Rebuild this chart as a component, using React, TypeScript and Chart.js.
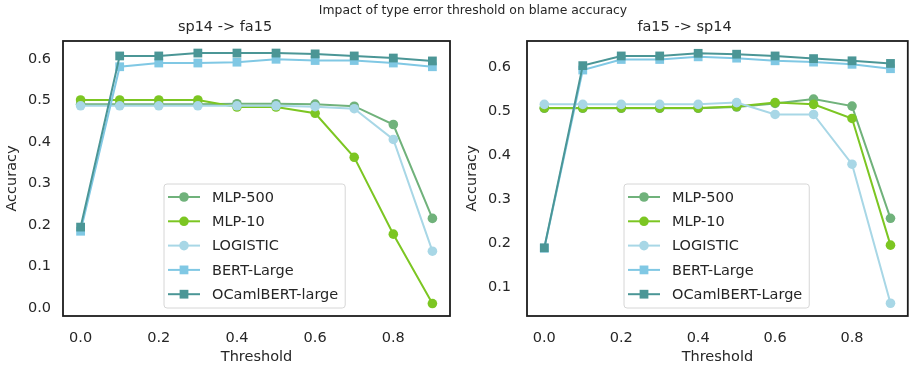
import React, { useEffect, useRef } from 'react';
import { Chart, registerables } from 'chart.js';

Chart.register(...registerables);

const FONT = '"DejaVu Sans", sans-serif';

const thresholds = [0, 0.1, 0.2, 0.3, 0.4, 0.5, 0.6, 0.7, 0.8, 0.9];
const xTickValues = [0, 0.2, 0.4, 0.6, 0.8];

const suptitle = 'Impact of type error threshold on blame accuracy';
const leftTitle = 'sp14 -> fa15';
const rightTitle = 'fa15 -> sp14';
const xLabel = 'Threshold';
const yLabel = 'Accuracy';

const leftNames = ['MLP-500', 'MLP-10', 'LOGISTIC', 'BERT-Large', 'OCamlBERT-large'];
const rightNames = ['MLP-500', 'MLP-10', 'LOGISTIC', 'BERT-Large', 'OCamlBERT-Large'];

// sp14 -> fa15
const leftMlp500 = [0.491, 0.491, 0.491, 0.491, 0.492, 0.492, 0.491, 0.486, 0.442, 0.216];
const leftMlp10 = [0.501, 0.501, 0.501, 0.501, 0.484, 0.484, 0.469, 0.363, 0.178, 0.011];
const leftLogistic = [0.487, 0.487, 0.487, 0.487, 0.487, 0.487, 0.485, 0.48, 0.406, 0.137];
const leftBert = [0.185, 0.581, 0.59, 0.59, 0.592, 0.599, 0.596, 0.596, 0.59, 0.581];
const leftOcaml = [0.195, 0.607, 0.607, 0.614, 0.614, 0.614, 0.612, 0.607, 0.602, 0.595];

// fa15 -> sp14
const rightMlp500 = [0.506, 0.506, 0.506, 0.506, 0.506, 0.509, 0.517, 0.527, 0.511, 0.256];
const rightMlp10 = [0.507, 0.507, 0.507, 0.507, 0.507, 0.51, 0.519, 0.515, 0.483, 0.195];
const rightLogistic = [0.515, 0.515, 0.515, 0.515, 0.515, 0.519, 0.492, 0.492, 0.379, 0.063];
const rightBert = [0.188, 0.593, 0.617, 0.617, 0.623, 0.62, 0.614, 0.611, 0.606, 0.596];
const rightOcaml = [0.189, 0.603, 0.625, 0.625, 0.631, 0.629, 0.625, 0.619, 0.614, 0.608];

const leftYTicks = [0, 0.1, 0.2, 0.3, 0.4, 0.5, 0.6];
const rightYTicks = [0.1, 0.2, 0.3, 0.4, 0.5, 0.6];

const colors = ['#70b27b', '#7cc622', '#a8d7e6', '#80c8e4', '#4b9696'];
const markers = ['circle', 'circle', 'circle', 'rect', 'rect'];

const frameLegendPlugin = {
  id: 'mplFrameLegend',
  afterDatasetsDraw(chart: any, _args: any, opts: any) {
    const ctx = chart.ctx as CanvasRenderingContext2D;
    const { left, top, right, bottom } = chart.chartArea;
    ctx.save();
    ctx.strokeStyle = '#1c1c1c';
    ctx.lineWidth = 1.8;
    ctx.strokeRect(left, top, right - left, bottom - top);

    ctx.font = '14.5px ' + FONT;
    const ds = chart.data.datasets;
    let maxW = 0;
    ds.forEach((d: any) => {
      maxW = Math.max(maxW, ctx.measureText(d.label).width);
    });
    const bx = opts.x;
    const by = opts.y;
    const bw = 48 + maxW + 7;
    const bh = 124;
    const r = 3;
    ctx.beginPath();
    ctx.moveTo(bx + r, by);
    ctx.lineTo(bx + bw - r, by);
    ctx.arcTo(bx + bw, by, bx + bw, by + r, r);
    ctx.lineTo(bx + bw, by + bh - r);
    ctx.arcTo(bx + bw, by + bh, bx + bw - r, by + bh, r);
    ctx.lineTo(bx + r, by + bh);
    ctx.arcTo(bx, by + bh, bx, by + bh - r, r);
    ctx.lineTo(bx, by + r);
    ctx.arcTo(bx, by, bx + r, by, r);
    ctx.closePath();
    ctx.fillStyle = 'rgba(255,255,255,0.85)';
    ctx.fill();
    ctx.strokeStyle = '#d6d6d6';
    ctx.lineWidth = 1;
    ctx.stroke();

    ds.forEach((d: any, i: number) => {
      const y = by + 13 + i * 24.3;
      ctx.strokeStyle = d.borderColor;
      ctx.lineWidth = 2;
      ctx.beginPath();
      ctx.moveTo(bx + 4, y);
      ctx.lineTo(bx + 36, y);
      ctx.stroke();
      ctx.fillStyle = d.borderColor;
      if (d.pointStyle === 'rect') {
        const s = d.pointRadius * Math.SQRT1_2;
        ctx.fillRect(bx + 20 - s, y - s, 2 * s, 2 * s);
      } else {
        ctx.beginPath();
        ctx.arc(bx + 20, y, d.pointRadius, 0, Math.PI * 2);
        ctx.fill();
      }
      ctx.fillStyle = '#262626';
      ctx.textAlign = 'left';
      ctx.textBaseline = 'middle';
      ctx.fillText(d.label, bx + 48, y + 1);
    });
    ctx.restore();
  },
};

function buildConfig(
  title: string,
  names: string[],
  series: number[][],
  yTicks: number[],
  yMin: number,
  yMax: number,
  yAxisWidth: number,
  padRight: number,
  legendPos: { x: number; y: number }
): any {
  const datasets = series.map((vals, i) => ({
    label: names[i],
    data: thresholds.map((t, j) => ({ x: t, y: vals[j] })),
    borderColor: colors[i],
    backgroundColor: colors[i],
    borderWidth: 2,
    pointStyle: markers[i],
    pointRadius: markers[i] === 'rect' ? 6.2 : 4.8,
    pointBorderWidth: 0,
    pointHoverRadius: 0,
    tension: 0,
    fill: false,
    order: series.length - 1 - i,
    clip: false,
  }));
  return {
    type: 'line',
    data: { datasets },
    plugins: [frameLegendPlugin],
    options: {
      responsive: false,
      animation: false,
      devicePixelRatio: 1,
      layout: { padding: { left: 0, right: padRight, top: 0, bottom: 0 } },
      plugins: {
        legend: { display: false },
        tooltip: { enabled: false },
        title: {
          display: true,
          text: title,
          color: '#262626',
          font: { family: FONT, size: 14.5, weight: 'normal', lineHeight: 1.2 },
          padding: { top: 18.8, bottom: 4.8 },
        },
        mplFrameLegend: legendPos,
      },
      scales: {
        x: {
          type: 'linear',
          min: -0.045,
          max: 0.945,
          grid: { display: false, drawTicks: false },
          border: { display: false },
          afterBuildTicks: (scale: any) => {
            scale.ticks = xTickValues.map((v) => ({ value: v }));
          },
          afterFit: (scale: any) => {
            scale.height = 54;
          },
          ticks: {
            color: '#262626',
            padding: 14,
            maxRotation: 0,
            autoSkip: false,
            font: { family: FONT, size: 14.5 },
            callback: (v: any) => Number(v).toFixed(1),
          },
          title: {
            display: true,
            text: xLabel,
            color: '#262626',
            font: { family: FONT, size: 14.5, lineHeight: 1.2 },
            padding: { top: 0, bottom: 3.8 },
          },
        },
        y: {
          type: 'linear',
          min: yMin,
          max: yMax,
          grid: { display: false, drawTicks: false },
          border: { display: false },
          afterBuildTicks: (scale: any) => {
            scale.ticks = yTicks.map((v) => ({ value: v }));
          },
          afterFit: (scale: any) => {
            scale.width = yAxisWidth;
          },
          ticks: {
            color: '#262626',
            padding: yAxisWidth === 63 ? 12 : 16,
            autoSkip: false,
            font: { family: FONT, size: 14.5 },
            callback: (v: any) => Number(v).toFixed(1),
          },
          title: {
            display: true,
            text: yLabel,
            color: '#262626',
            font: { family: FONT, size: 14.5, lineHeight: 1.2 },
            padding: { top: yAxisWidth === 63 ? 4 : 7, bottom: 0 },
          },
        },
      },
    },
  };
}

export default function App() {
  const leftRef = useRef<HTMLCanvasElement>(null);
  const rightRef = useRef<HTMLCanvasElement>(null);

  useEffect(() => {
    const left = new Chart(
      leftRef.current as HTMLCanvasElement,
      buildConfig(
        leftTitle,
        leftNames,
        [leftMlp500, leftMlp10, leftLogistic, leftBert, leftOcaml],
        leftYTicks,
        -0.019,
        0.643,
        63,
        7,
        { x: 164, y: 184 }
      )
    );
    const right = new Chart(
      rightRef.current as HTMLCanvasElement,
      buildConfig(
        rightTitle,
        rightNames,
        [rightMlp500, rightMlp10, rightLogistic, rightBert, rightOcaml],
        rightYTicks,
        0.034,
        0.659,
        70,
        2,
        { x: 167, y: 184 }
      )
    );
    return () => {
      left.destroy();
      right.destroy();
    };
  }, []);

  return (
    <div
      style={{
        position: 'fixed',
        left: 0,
        top: 0,
        width: 914,
        height: 370,
        background: '#ffffff',
        overflow: 'hidden',
      }}
    >
      <div
        style={{
          position: 'absolute',
          left: 0,
          top: 2,
          width: 946,
          textAlign: 'center',
          fontFamily: FONT,
          fontSize: 12.4,
          lineHeight: '15px',
          color: '#262626',
          whiteSpace: 'nowrap',
          zIndex: 2,
        }}
      >
        {suptitle}
      </div>
      <canvas
        ref={leftRef}
        width={457}
        height={370}
        style={{ position: 'absolute', left: 0, top: 0, width: 457, height: 370 }}
      />
      <canvas
        ref={rightRef}
        width={457}
        height={370}
        style={{ position: 'absolute', left: 457, top: 0, width: 457, height: 370 }}
      />
    </div>
  );
}
